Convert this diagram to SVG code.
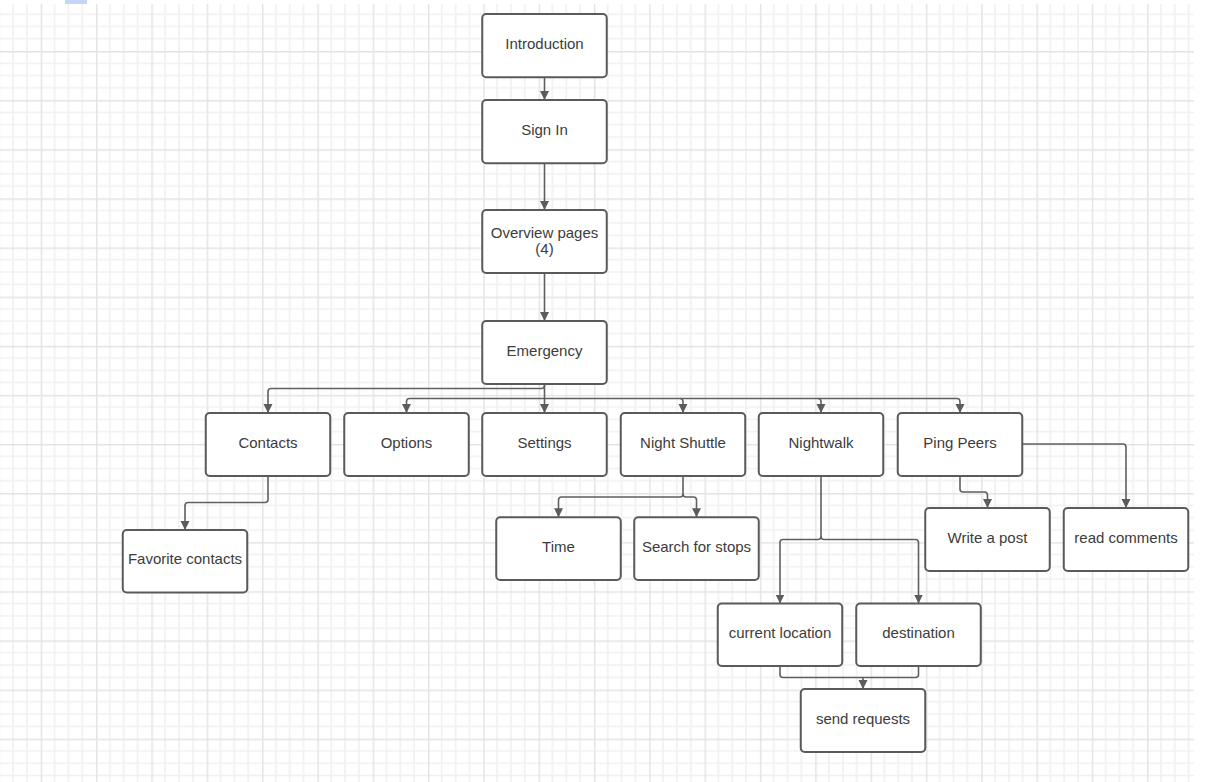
<svg xmlns="http://www.w3.org/2000/svg" width="1212" height="782" viewBox="0 0 1212 782">
<defs>
<pattern id="grid" patternUnits="userSpaceOnUse" x="-14.6" y="1.88" width="55.32" height="49.12">
<g stroke="#f0f0f0" stroke-width="1.5">
<line x1="13.83" y1="0" x2="13.83" y2="49.12"/>
<line x1="27.66" y1="0" x2="27.66" y2="49.12"/>
<line x1="41.49" y1="0" x2="41.49" y2="49.12"/>
<line x1="0" y1="12.28" x2="55.32" y2="12.28"/>
<line x1="0" y1="24.56" x2="55.32" y2="24.56"/>
<line x1="0" y1="36.84" x2="55.32" y2="36.84"/>
</g>
<g stroke="#e3e3e3" stroke-width="1.5">
<line x1="0.7" y1="0" x2="0.7" y2="49.12"/>
<line x1="0" y1="0.7" x2="55.32" y2="0.7"/>
</g>
</pattern>
<marker id="arr" markerUnits="userSpaceOnUse" markerWidth="9" markerHeight="10" refX="9" refY="4.5" orient="auto">
<path d="M0,0 L9,4.5 L0,9 Z" fill="#5c5c5c"/>
</marker>
<style>
.box{fill:#ffffff;stroke:#5a5a5a;stroke-width:2}
.lbl{font-family:"Liberation Sans",Arial,sans-serif;font-size:15px;fill:#3c3c3c;text-anchor:middle}
.con{fill:none;stroke:#5f5f5f;stroke-width:1.6}
.arw{marker-end:url(#arr)}
</style>
</defs>
<rect x="0" y="0" width="1212" height="782" fill="#ffffff"/>
<rect x="0" y="4" width="1194" height="778" fill="url(#grid)"/>
<rect x="0" y="0" width="1212" height="4" fill="#ffffff"/>
<rect x="65" y="0" width="22" height="4" fill="#c3d5fa"/>

<g id="connectors">
<path class="con arw" d="M544.5,77.5 V100"/>
<path class="con arw" d="M544.5,163.5 V210"/>
<path class="con arw" d="M544.5,273.5 V321"/>
<path class="con arw" d="M544.5,384 V385.5 Q544.5,388.5 541.5,388.5 H271 Q268,388.5 268,391.5 V413"/>
<path class="con arw" d="M544.5,398.5 H409.5 Q406.5,398.5 406.5,401.5 V413"/>
<path class="con arw" d="M544.5,384 V413"/>
<path class="con arw" d="M544.5,398.5 H680 Q683,398.5 683,401.5 V413"/>
<path class="con arw" d="M680,398.5 H818 Q821,398.5 821,401.5 V413"/>
<path class="con arw" d="M818,398.5 H957 Q960,398.5 960,401.5 V413"/>
<path class="con arw" d="M268,476 V499.5 Q268,502.5 265,502.5 H188 Q185,502.5 185,505.5 V530"/>
<path class="con arw" d="M683,476 V494 Q683,497 680,497 H561.5 Q558.5,497 558.5,500 V517.3"/>
<path class="con arw" d="M683,494 Q683,497 686,497 H693.5 Q696.5,497 696.5,500 V517.3"/>
<path class="con arw" d="M821,476 V536.5 Q821,539.5 818,539.5 H783 Q780,539.5 780,542.5 V603.5"/>
<path class="con arw" d="M821,536.5 Q821,539.5 824,539.5 H915.5 Q918.5,539.5 918.5,542.5 V603.5"/>
<path class="con" d="M780,666 V674.5 Q780,677.5 783,677.5 H915.5 Q918.5,677.5 918.5,674.5 V666"/>
<path class="con arw" d="M863,677.5 V689"/>
<path class="con arw" d="M960,476 V489 Q960,492 963,492 H984.5 Q987.5,492 987.5,495 V508"/>
<path class="con arw" d="M1022.25,444 H1123 Q1126,444 1126,447 V508"/>
</g>

<g id="introduction"><rect class="box" x="482.25" y="14" width="124.5" height="63.3" rx="4"/><text class="lbl" x="544.5" y="49">Introduction</text></g>
<g id="sign-in"><rect class="box" x="482.25" y="100" width="124.5" height="63.3" rx="4"/><text class="lbl" x="544.5" y="135">Sign In</text></g>
<g id="overview"><rect class="box" x="482.25" y="210" width="124.5" height="63" rx="4"/><text class="lbl" x="544.5" y="237.5">Overview pages</text><text class="lbl" x="544.5" y="254">(4)</text></g>
<g id="emergency"><rect class="box" x="482.25" y="321" width="124.5" height="63" rx="4"/><text class="lbl" x="544.5" y="355.5">Emergency</text></g>

<g id="contacts"><rect class="box" x="205.75" y="413" width="124.5" height="63" rx="4"/><text class="lbl" x="268" y="447.5">Contacts</text></g>
<g id="options"><rect class="box" x="344.25" y="413" width="124.5" height="63" rx="4"/><text class="lbl" x="406.5" y="447.5">Options</text></g>
<g id="settings"><rect class="box" x="482.25" y="413" width="124.5" height="63" rx="4"/><text class="lbl" x="544.5" y="447.5">Settings</text></g>
<g id="night-shuttle"><rect class="box" x="620.75" y="413" width="124.5" height="63" rx="4"/><text class="lbl" x="683" y="447.5">Night Shuttle</text></g>
<g id="nightwalk"><rect class="box" x="758.75" y="413" width="124.5" height="63" rx="4"/><text class="lbl" x="821" y="447.5">Nightwalk</text></g>
<g id="ping-peers"><rect class="box" x="897.75" y="413" width="124.5" height="63" rx="4"/><text class="lbl" x="960" y="447.5">Ping Peers</text></g>

<g id="favorite-contacts"><rect class="box" x="122.75" y="530" width="124.5" height="62.5" rx="4"/><text class="lbl" x="185" y="564">Favorite contacts</text></g>
<g id="time"><rect class="box" x="496.25" y="517.3" width="124.5" height="62.7" rx="4"/><text class="lbl" x="558.5" y="551.5">Time</text></g>
<g id="search-stops"><rect class="box" x="634.25" y="517.3" width="124.5" height="62.7" rx="4"/><text class="lbl" x="696.5" y="551.5">Search for stops</text></g>
<g id="write-post"><rect class="box" x="925.25" y="508" width="124.5" height="63" rx="4"/><text class="lbl" x="987.5" y="542.5">Write a post</text></g>
<g id="read-comments"><rect class="box" x="1063.75" y="508" width="124.5" height="63" rx="4"/><text class="lbl" x="1126" y="542.5">read comments</text></g>
<g id="current-location"><rect class="box" x="717.75" y="603.5" width="124.5" height="62.5" rx="4"/><text class="lbl" x="780" y="637.5">current location</text></g>
<g id="destination"><rect class="box" x="856.25" y="603.5" width="124.5" height="62.5" rx="4"/><text class="lbl" x="918.5" y="637.5">destination</text></g>
<g id="send-requests"><rect class="box" x="800.75" y="689" width="124.5" height="63" rx="4"/><text class="lbl" x="863" y="723.5">send requests</text></g>
</svg>
